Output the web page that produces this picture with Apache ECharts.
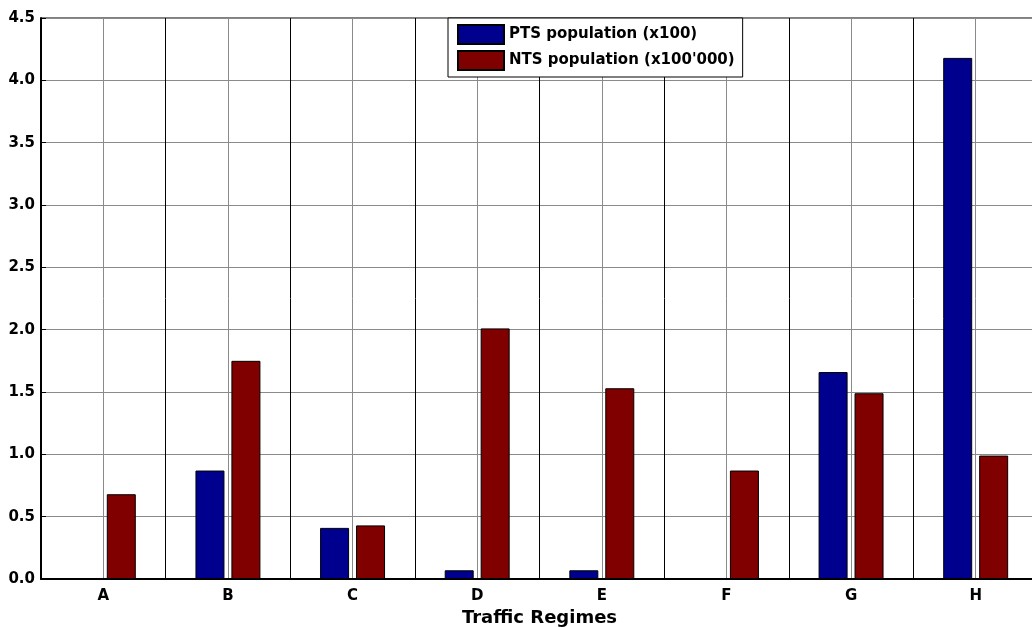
<!DOCTYPE html>
<html>
<head>
<meta charset="utf-8">
<script src="https://cdn.jsdelivr.net/npm/echarts@6/dist/echarts.min.js"></script>
<style>html,body{margin:0;padding:0;background:#fff}#c{width:1032px;height:627px}</style>
</head>
<body>
<div id="c"></div>
<script>
const categories = ['A','B','C','D','E','F','G','H'];
const ptsValues = [0, 0.87, 0.41, 0.07, 0.07, 0, 1.66, 4.18];
const ntsValues = [0.68, 1.75, 0.43, 2.01, 1.53, 0.87, 1.49, 0.99];
const seriesNames = ['PTS population (x100)', "NTS population (x100'000)"];
const yTicks = { min: 0, max: 4.5, interval: 0.5 };

// helper axis: half-category points (boundaries at even index, centres at odd index)
const halfSteps = [];
for (let i = 0; i <= categories.length * 2; i++) halfSteps.push(String(i));

const font = 'DejaVu Sans, Verdana, sans-serif';
const chart = echarts.init(document.getElementById('c'), null, { renderer: 'canvas' });
chart.setOption({
  animation: false,
  backgroundColor: '#fff',
  grid: { left: 41, right: -6, top: 18, bottom: 48, show: true, borderColor: '#000', borderWidth: 1,
          containLabel: false, outerBoundsMode: 'none' },
  legend: {
    orient: 'vertical', left: 448, top: 18,
    padding: [6, 8, 6, 9], itemGap: 5, itemWidth: 46, itemHeight: 19,
    icon: 'rect',
    backgroundColor: '#fff', borderColor: '#000', borderWidth: 1,
    textStyle: { fontFamily: font, fontWeight: 'bold', fontSize: 15, color: '#000', padding: [0, 0, 0, 0] },
    data: seriesNames
  },
  xAxis: [
    {
      type: 'category', data: categories,
      name: 'Traffic Regimes', nameLocation: 'middle', nameGap: 30,
      nameTextStyle: { fontFamily: font, fontWeight: 'bold', fontSize: 18, color: '#000' },
      axisLine: { lineStyle: { color: '#000', width: 2 } },
      axisTick: { show: true, inside: true, length: 4, lineStyle: { color: '#000' } },
      axisLabel: { fontFamily: font, fontWeight: 'bold', fontSize: 15, color: '#000', margin: 10 },
      splitLine: { show: true, lineStyle: { color: '#000', width: 1 } },
      z: 3
    },
    {
      type: 'category', data: halfSteps, boundaryGap: false, position: 'bottom',
      axisLine: { show: false }, axisTick: { show: false }, axisLabel: { show: false },
      splitLine: { show: true, interval: (i) => i % 2 === 1, lineStyle: { color: '#8a8a8a', width: 1 } },
      z: 1
    }
  ],
  yAxis: {
    type: 'value', min: yTicks.min, max: yTicks.max, interval: yTicks.interval,
    axisLine: { show: true, lineStyle: { color: '#000', width: 2 } },
    axisTick: { show: true, inside: true, length: 5, lineStyle: { color: '#000' } },
    axisLabel: { fontFamily: font, fontWeight: 'bold', fontSize: 15, color: '#000', margin: 6,
      formatter: v => v.toFixed(1) },
    splitLine: { show: true, lineStyle: { color: '#8a8a8a', width: 1 } }
  },
  series: [
    {
      name: seriesNames[0], type: 'bar', data: ptsValues, barWidth: 29, barGap: '24%',
      itemStyle: { color: '#00008F', borderColor: '#000', borderWidth: 1 }
    },
    {
      name: seriesNames[1], type: 'bar', data: ntsValues, barWidth: 29,
      itemStyle: { color: '#800000', borderColor: '#000', borderWidth: 1 }
    }
  ]
});
</script>
</body>
</html>
